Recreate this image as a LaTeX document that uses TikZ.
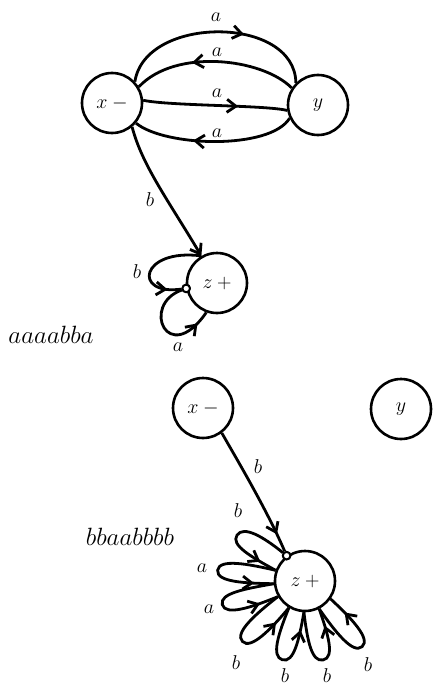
\RequirePackage{fix-cm}
\documentclass[tikz,border=0pt]{standalone}
\usetikzlibrary{arrows.meta,decorations.markings,calc}
\begin{document}
\begin{tikzpicture}[x=1pt,y=1pt,
  st/.style={circle,draw,line width=2.6pt,minimum size=60pt,inner sep=0pt,font=\fontsize{20}{24}\selectfont},
  kink/.style={circle,draw,fill=white,line width=1.9pt,minimum size=7.5pt,inner sep=0pt},
  ln/.style={line width=2.8pt},
  lbl/.style={inner sep=0pt,font=\fontsize{20}{24}\selectfont},
  word/.style={inner sep=0pt,font=\fontsize{25}{29}\selectfont},
  barbtip/.style={-{Straight Barb[length=9pt,width=13pt]}},
  midarr/.style={postaction={decorate},decoration={markings,mark=at position #1 with {\arrow{Straight Barb[length=9pt,width=13pt]}}}}]
\useasboundingbox (0,0) rectangle (432,-688);

% ---------- top diagram ----------
\node[st] (x1) at (112,-103) {$x\mskip4mu{-}$};
\node[st] (y1) at (318,-105) {$y$};
\node[st] (z1) at (217,-283) {$z\mskip4mu{+}$};

\draw[ln,midarr=0.63] (x1.43) .. controls (145,-15) and (295,-15) .. (y1.135);
\draw[ln,midarr=0.64] (y1.147) .. controls (262,-58) and (175,-48) .. (x1.31);
\draw[ln,midarr=0.66] (x1.5) .. controls (170,-106) and (265,-105) .. (y1.190);
\draw[ln,midarr=0.63] (y1.205) .. controls (270,-150) and (165,-147) .. (x1.-40);
\draw[ln,barbtip] (x1.-50) .. controls (142,-165) and (168,-200) .. (z1.120);

\node[kink] (k1) at (z1.190) {};
\draw[ln,midarr=0.86] (z1.120) .. controls (140,-248) and (132,-296) .. (k1);
\draw[ln,midarr=0.86] (k1) .. controls (140,-305) and (168,-368) .. (z1.250);
\node[kink] at (k1) {};

\node[lbl] (la1) at (216,-17) {$a$};
\node[lbl] (la2) at (217,-52) {$a$};
\node[lbl] (la3) at (217,-93) {$a$};
\node[lbl] (la4) at (217,-133) {$a$};
\node[lbl] (lb1) at (150,-200) {$b$};
\node[lbl] (lb2) at (137,-272) {$b$};
\node[lbl] (la5) at (178,-347) {$a$};
\node[word] (w1) at (51,-335) {$aaaabba$};

% ---------- bottom diagram ----------
\node[st] (x2) at (203,-408) {$x\mskip4mu{-}$};
\node[st] (y2) at (401,-409) {$y$};
\node[st] (z2) at (305,-581) {$z\mskip4mu{+}$};
\node[kink] (k2) at (z2.126) {};

\draw[ln,midarr=0.86] (x2.-53) .. controls (236,-458) and (266,-508) .. (k2);

\coordinate (t1) at ($(z2.center)+(146:82)$);
\draw[ln,midarr=0.84] (k2) .. controls +(141:30) and +(56:12) .. (t1) .. controls +(236:12) and +(151:28) .. (z2.160);
\foreach \i/\s/\t/\e/\D in {2/160/173/185/88, 3/185/196/210/86, 4/210/224/239/87, 5/239/254/268/82, 6/268/283/297/81, 7/297/311/325/87}{
  \coordinate (t\i) at ($(z2.center)+(\t:\D)$);
  \pgfmathsetmacro\ta{\t-90}
  \pgfmathsetmacro\tb{\t+90}
  \pgfmathsetmacro\tc{\t-6}
  \pgfmathsetmacro\td{\t+6}
  \draw[ln,midarr=0.84] (z2.\s) .. controls +(\tc:28) and +(\ta:12) .. (t\i) .. controls +(\tb:12) and +(\td:28) .. (z2.\e);
}
\node[kink] at (k2) {};

\node[lbl] (lb3) at (258,-467) {$b$};
\node[lbl] (lb4) at (238,-511) {$b$};
\node[lbl] (la6) at (202,-568) {$a$};
\node[lbl] (la7) at (209,-609) {$a$};
\node[lbl] (lb5) at (236,-663) {$b$};
\node[lbl] (lb6) at (285,-676) {$b$};
\node[lbl] (lb7) at (327,-676) {$b$};
\node[lbl] (lb8) at (368,-665) {$b$};
\node[word] (w2) at (130,-537) {$bbaabbbb$};
\end{tikzpicture}
\end{document}
